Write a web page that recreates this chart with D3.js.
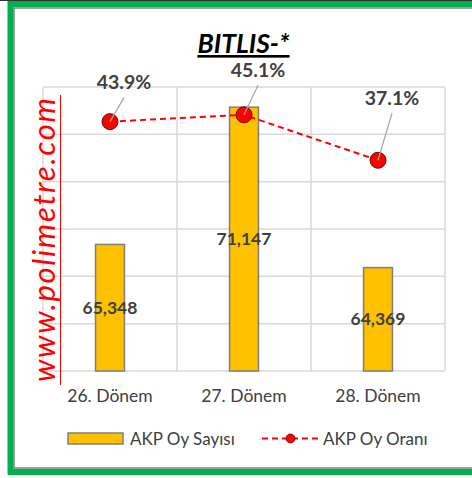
<!DOCTYPE html>
<html>
<head>
<meta charset="utf-8">
<script src="https://cdn.jsdelivr.net/npm/d3@7"></script>
<style>
  html, body { margin: 0; padding: 0; background: #fff; }
  svg { display: block; }
  text { font-family: Lato, "Open Sans", sans-serif; }
</style>
</head>
<body>
<svg id="chart" width="472" height="478"></svg>
<script>
// ---- data ----
const categories = ["26. Dönem", "27. Dönem", "28. Dönem"];
const voteCounts = [65348, 71147, 64369];
const voteShares = [43.9, 45.1, 37.1];
const voteTicks = [60000, 62000, 64000, 66000, 68000, 70000, 72000];
const titleText = "BITLIS-*";
const watermarkText = "www.polimetre.com";
const legendLabels = ["AKP Oy Sayısı", "AKP Oy Oranı"];

// ---- layout (not data) ----
const plot = { left: 43, right: 445, top: 87, bottom: 371 };
const pctLabelDy = [-39, -44.5, -62];   // manual label placement
const pctLabelDx = 14;

const svg = d3.select("#chart");

// frame
svg.append("rect").attr("x", 10.5).attr("y", 4).attr("width", 480).attr("height", 468)
  .attr("fill", "none").attr("stroke", "#00B050").attr("stroke-width", 6);
svg.append("rect").attr("x", 14).attr("y", 8).attr("width", 480).attr("height", 460)
  .attr("fill", "none").attr("stroke", "#808080").attr("stroke-width", 1.5);
svg.append("line").attr("x1", 0).attr("x2", 472).attr("y1", 0.5).attr("y2", 0.5)
  .attr("stroke", "#333").attr("stroke-width", 1);

// scales
const x = d3.scaleBand().domain(categories).range([plot.left, plot.right]).padding(0);
const y = d3.scaleLinear().domain([60000, 72000]).range([plot.bottom, plot.top]);
const y2 = d3.scaleLinear().domain([0, 50]).range([plot.bottom, plot.top]);

// gridlines
const grid = svg.append("g");
grid.selectAll("line.h").data(voteTicks).enter().append("line")
  .attr("x1", plot.left).attr("x2", plot.right)
  .attr("y1", d => y(d)).attr("y2", d => y(d))
  .attr("stroke", "#D9D9D9").attr("stroke-width", 1.5);
const vlines = categories.map(c => x(c)).concat([x(categories[categories.length - 1]) + x.bandwidth()]);
grid.selectAll("line.v").data(vlines).enter().append("line")
  .attr("x1", d => d).attr("x2", d => d)
  .attr("y1", plot.top).attr("y2", plot.bottom)
  .attr("stroke", "#D9D9D9").attr("stroke-width", 1.5);

// category axis labels
const xAxis = d3.axisBottom(x).tickSize(0).tickPadding(0);
const xg = svg.append("g").attr("transform", `translate(0,${plot.bottom})`).call(xAxis);
xg.select(".domain").remove();
xg.selectAll("text").attr("dy", null).attr("y", 31)
  .attr("font-family", "Lato").attr("font-size", 17.5).attr("fill", "#404040");

// watermark (behind the bars)
const wm = svg.append("g").attr("transform", "translate(55,240) rotate(-90)");
wm.append("text")
  .attr("text-anchor", "middle").attr("font-size", 31).attr("font-style", "italic")
  .attr("fill", "#FF0000")
  .attr("textLength", 284).attr("lengthAdjust", "spacing")
  .text(watermarkText);
wm.append("line").attr("x1", -145).attr("x2", 145).attr("y1", 5.5).attr("y2", 5.5)
  .attr("stroke", "#FF0000").attr("stroke-width", 1);

// bars
const barW = x.bandwidth() * 0.216;
svg.append("g").selectAll("rect").data(voteCounts).enter().append("rect")
  .attr("x", (d, i) => x(categories[i]) + x.bandwidth() / 2 - barW / 2)
  .attr("y", d => y(d))
  .attr("width", barW)
  .attr("height", d => y(60000) - y(d))
  .attr("fill", "#FFC000").attr("stroke", "#7F7F7F").attr("stroke-width", 1.5);

// bar labels
svg.append("g").selectAll("text").data(voteCounts).enter().append("text")
  .attr("x", (d, i) => x(categories[i]) + x.bandwidth() / 2)
  .attr("y", d => (y(d) + y(60000)) / 2)
  .attr("dy", "0.35em")
  .attr("text-anchor", "middle")
  .attr("font-weight", "bold").attr("font-size", 17.5).attr("fill", "#404040")
  .text(d => d3.format(",")(d));

// line
const cx = (i) => x(categories[i]) + x.bandwidth() / 2;
const line = d3.line().x((d, i) => cx(i)).y(d => y2(d));
svg.append("path").datum(voteShares).attr("d", line)
  .attr("fill", "none").attr("stroke", "#FF0000").attr("stroke-width", 2)
  .attr("stroke-dasharray", "6,4");
svg.append("g").selectAll("circle").data(voteShares).enter().append("circle")
  .attr("cx", (d, i) => cx(i)).attr("cy", d => y2(d)).attr("r", 8)
  .attr("fill", "#FF0000").attr("stroke", "#5a1010").attr("stroke-width", 1);

// leader lines & pct labels
svg.append("g").selectAll("line").data(voteShares).enter().append("line")
  .attr("x1", (d, i) => cx(i)).attr("y1", d => y2(d))
  .attr("x2", (d, i) => cx(i) + pctLabelDx).attr("y2", (d, i) => y2(d) + pctLabelDy[i] + 15)
  .attr("stroke", "#A6A6A6").attr("stroke-width", 1.2);
svg.append("g").selectAll("text").data(voteShares).enter().append("text")
  .attr("x", (d, i) => cx(i) + pctLabelDx)
  .attr("y", (d, i) => y2(d) + pctLabelDy[i])
  .attr("dy", "0.35em")
  .attr("text-anchor", "middle")
  .attr("font-weight", "bold").attr("font-size", 19.5).attr("fill", "#404040")
  .text(d => d.toFixed(1) + "%");

// title
svg.append("text").attr("x", 243.5).attr("y", 53).attr("text-anchor", "middle")
  .attr("font-weight", "bold").attr("font-style", "italic").attr("font-size", 26.5)
  .attr("fill", "#000").attr("text-decoration", "underline")
  .text(titleText);

// legend
const lg = svg.append("g");
lg.append("rect").attr("x", 68).attr("y", 433).attr("width", 55).attr("height", 11)
  .attr("fill", "#FFC000").attr("stroke", "#7F7F7F").attr("stroke-width", 1.5);
lg.append("text").attr("x", 130).attr("y", 444.5).attr("font-size", 17)
  .attr("fill", "#404040").text(legendLabels[0]);
lg.append("line").attr("x1", 262).attr("x2", 318).attr("y1", 438.5).attr("y2", 438.5)
  .attr("stroke", "#FF0000").attr("stroke-width", 2).attr("stroke-dasharray", "6,4");
lg.append("circle").attr("cx", 290.5).attr("cy", 438.5).attr("r", 4.5)
  .attr("fill", "#FF0000").attr("stroke", "#5a1010").attr("stroke-width", 0.8);
lg.append("text").attr("x", 323).attr("y", 444.5).attr("font-size", 17)
  .attr("fill", "#404040").text(legendLabels[1]);
</script>
</body>
</html>
